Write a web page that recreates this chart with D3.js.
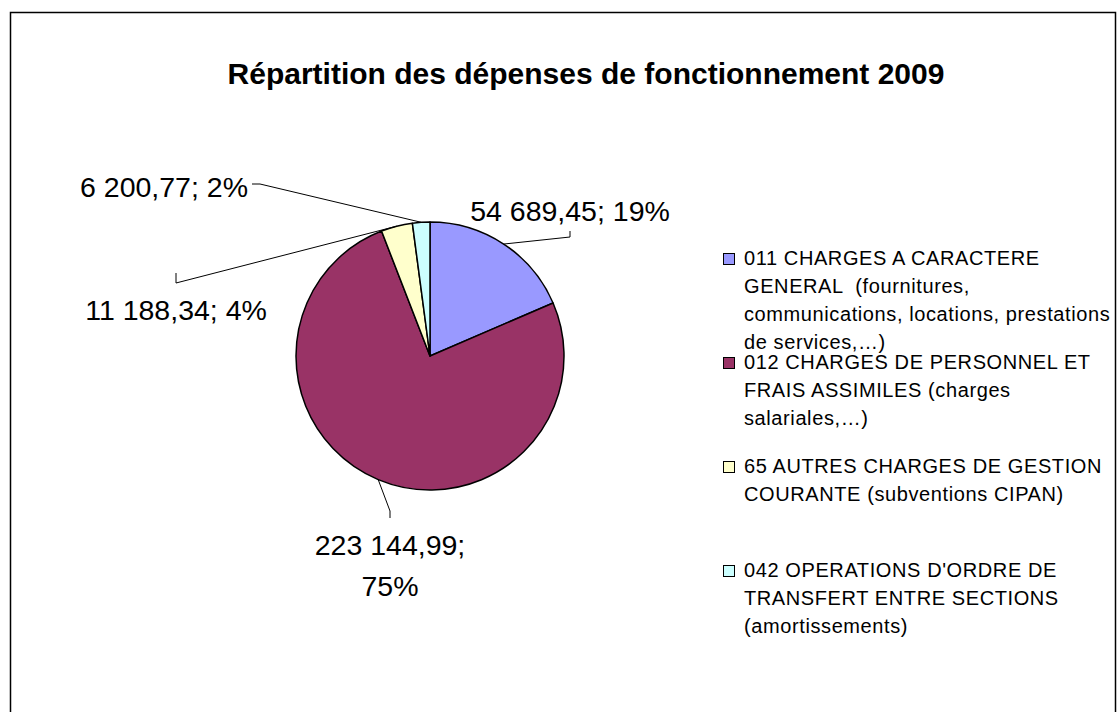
<!DOCTYPE html>
<html>
<head>
<meta charset="utf-8">
<script src="https://cdn.jsdelivr.net/npm/d3@7"></script>
<style>
  body { margin: 0; background: #fff; }
  svg text { font-family: Arial, "Liberation Sans", sans-serif; fill: #000; white-space: pre; }
</style>
</head>
<body>
<div id="chart"></div>
<script>
// data
const categories = [
    "011 CHARGES A CARACTERE GENERAL",
    "012 CHARGES DE PERSONNEL ET FRAIS ASSIMILES",
    "65 AUTRES CHARGES DE GESTION COURANTE",
    "042 OPERATIONS D'ORDRE DE TRANSFERT ENTRE SECTIONS"
];
const values = [54689.45, 223144.99, 11188.34, 6200.77];
const percents = [19, 75, 4, 2];
const legendLines = [
    ["011 CHARGES A CARACTERE", "GENERAL  (fournitures,", "communications, locations, prestations", "de services,\u2026)"],
    ["012 CHARGES DE PERSONNEL ET", "FRAIS ASSIMILES (charges", "salariales,\u2026)"],
    ["65 AUTRES CHARGES DE GESTION", "COURANTE (subventions CIPAN)"],
    ["042 OPERATIONS D'ORDRE DE", "TRANSFERT ENTRE SECTIONS", "(amortissements)"]
];
const colors = ["#9999FF", "#993366", "#FFFFCC", "#CCFFFF"];
const title = "Répartition des dépenses de fonctionnement 2009";

// layout
const W = 1117, H = 712;
const cx = 430, cy = 356, r = 134;

const svg = d3.select("#chart").append("svg")
    .attr("width", W)
    .attr("height", H);

// frame
svg.append("rect")
    .attr("x", 10.5).attr("y", 12.5)
    .attr("width", 1105).attr("height", 740)
    .attr("fill", "#fff")
    .attr("stroke", "#000")
    .attr("stroke-width", 1.5);

// title
svg.append("text")
    .attr("x", 586).attr("y", 84)
    .attr("text-anchor", "middle")
    .attr("font-size", 30)
    .attr("font-weight", "bold")
    .text(title);

const pie = d3.pie().sort(null).value(d => d)(values);
const arc = d3.arc().innerRadius(0).outerRadius(r);

const g = svg.append("g").attr("transform", `translate(${cx},${cy})`);

g.selectAll("path.slice")
    .data(pie)
    .join("path")
    .attr("class", "slice")
    .attr("d", arc)
    .attr("fill", (d, i) => colors[i])
    .attr("stroke", "#000")
    .attr("stroke-width", 1.5)
    .attr("stroke-linejoin", "round");

// number formatting "54 689,45"
const fmt = v => {
    const [ip, dp] = v.toFixed(2).split(".");
    return ip.replace(/\B(?=(\d{3})+(?!\d))/g, " ") + "," + dp;
};

// label placement relative to pie centre: text anchor point, leader elbow, leader end
const labelLayout = [
    { tx: 140, ty: -135, anchor: "middle", elbow: [140, -119], knee: [140, -125] },
    { tx: -40, ty: 199, anchor: "middle", elbow: [-40, 155], knee: [-40, 162], twoLines: true },
    { tx: -254, ty: -36, anchor: "middle", elbow: [-254, -73], knee: [-254, -83] },
    { tx: -182, ty: -159, anchor: "end", elbow: [-170, -172], knee: [-178, -172] }
];

pie.forEach((d, i) => {
    const L = labelLayout[i];
    const a = (d.startAngle + d.endAngle) / 2;
    const p = [Math.sin(a) * r, -Math.cos(a) * r];
    g.append("polyline")
        .attr("points", [p, L.elbow, L.knee].map(q => q.join(",")).join(" "))
        .attr("fill", "none")
        .attr("stroke", "#000")
        .attr("stroke-width", 1);

    const t = g.append("text")
        .attr("x", L.tx).attr("y", L.ty)
        .attr("text-anchor", L.anchor)
        .attr("font-size", 28.5);
    if (L.twoLines) {
        t.append("tspan").attr("x", L.tx).text(fmt(values[i]) + ";");
        t.append("tspan").attr("x", L.tx).attr("dy", 41).text(percents[i] + "%");
    } else {
        t.text(fmt(values[i]) + "; " + percents[i] + "%");
    }
});

// legend
const legend = svg.append("g").attr("transform", "translate(723,265)");
const item = legend.selectAll("g.item")
    .data(categories)
    .join("g")
    .attr("class", "item")
    .attr("transform", (d, i) => `translate(0,${i * 104})`);

item.append("rect")
    .attr("x", 0.5).attr("y", -11.5)
    .attr("width", 11).attr("height", 11)
    .attr("fill", (d, i) => colors[i])
    .attr("stroke", "#000")
    .attr("stroke-width", 1);

item.append("text")
    .attr("font-size", 20)
    .attr("letter-spacing", 0.6)
    .selectAll("tspan")
    .data((d, i) => legendLines[i])
    .join("tspan")
    .attr("x", 21)
    .attr("y", (d, j) => j * 28)
    .text(d => d);
</script>
</body>
</html>
